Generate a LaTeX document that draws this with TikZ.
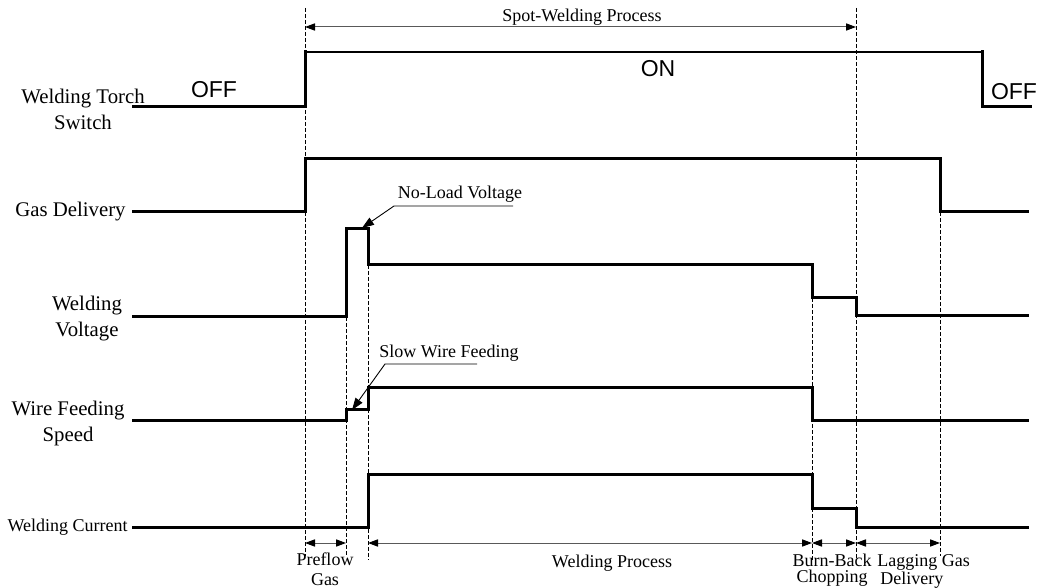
\documentclass[tikz,border=0pt]{standalone}
\usepackage{fontspec}
\setmainfont{Liberation Serif}
\newfontfamily\arialfont{Liberation Sans}
\usepackage{tikz}
\usetikzlibrary{positioning,arrows.meta,calc}

\begin{document}
\begin{tikzpicture}[x=0.5pt, y=-0.5pt,
  sig/.style={line width=1.5pt, line cap=rect},
  sighi/.style={line width=0.8pt},
  guide/.style={dash pattern=on 2pt off 1pt, line width=0.45pt},
  dim/.style={{Triangle[length=5pt,width=3.6pt,black]}-{Triangle[length=5pt,width=3.6pt,black]}, draw=black!65, line width=0.5pt},
  lead/.style={-{Triangle[length=6pt,width=4.2pt]}, line width=0.45pt},
  lab/.style={font=\fontsize{10.4}{13}\selectfont, align=center, inner sep=0pt},
  note/.style={font=\fontsize{9}{11}\selectfont, align=center, inner sep=0pt},
  st/.style={font=\arialfont\fontsize{11.5}{13}\selectfont, inner sep=0pt}]
\useasboundingbox (0,0) rectangle (1045,588);

% --- time instants (dashed guides) ---
\draw[guide] (305,8) -- (305,556);
\draw[guide] (346,317) -- (346,556);
\draw[guide] (368,265) -- (368,560);
\draw[guide] (812,298) -- (812,560);
\draw[guide] (856,8) -- (856,558);
\draw[guide] (940,212) -- (940,556);

% --- signal names on the left ---
\coordinate (torch0) at (133,107);
\coordinate (gas0) at (133,212);
\coordinate (volt0) at (133,317);
\coordinate (wire0) at (133,421);
\coordinate (cur0) at (133,527);
\node[lab] (lTorch) at (83,109) {Welding Torch\\Switch};
\node[lab, left=3.5pt of gas0] (lGas) {Gas Delivery};
\node[lab] (lVolt) at (87,319) {Welding\\Voltage};
\node[lab] (lWire) at (68,423) {Wire Feeding\\Speed};
\node[note, left=2.5pt of cur0] (lCur) {Welding Current};

% --- waveforms ---
\draw[sig] (torch0) -- (305,107) -- (305,52);
\draw[sighi] (305,52) -- (982,52);
\draw[sig] (982,52) -- (982,107) -- (1030,107);
\draw[sig] (gas0) -| (305,159) -| (940,212) -- (1027,212);
\draw[sig] (volt0) -| (346,229) -| (368,265) -| (812,298) -| (856,316) -- (1027,316);
\draw[sig] (wire0) -| (346,410) -| (368,388) -| (812,421) -- (1027,421);
\draw[sig] (cur0) -| (368,474) -| (812,508) -| (856,527) -- (1027,527);

% switch states
\node[st] (off1) at (214,90) {OFF};
\node[st] (on) at (658,69) {ON};
\node[st] (off2) at (1014,92) {OFF};

% --- spot-welding span on top ---
\coordinate (spA) at (305,27);
\coordinate (spB) at (856,27);
\draw[dim] (spA) -- (spB);
\node[note] (spot) at (582,17) {Spot-Welding Process};

% --- callouts ---
\node[note] (noload) at (460,194) {No-Load Voltage};
\coordinate (nlR) at (513,206);
\coordinate (nlL) at (394,206);
\coordinate (nlTip) at (362,228);
\draw[lead] (nlR) -- (nlL) -- (nlTip);
\node[note] (slow) at (449,353) {Slow Wire Feeding};
\coordinate (swR) at (477,364);
\coordinate (swL) at (385,364);
\coordinate (swTip) at (352,410);
\draw[lead] (swR) -- (swL) -- (swTip);

% --- phases along the bottom ---
\coordinate (p0) at (305,543);
\coordinate (p1) at (346,543);
\coordinate (p2) at (368,543);
\coordinate (p3) at (812,543);
\coordinate (p4) at (856,543);
\coordinate (p5) at (940,543);
\draw[dim] (p0) -- (p1);
\draw[dim] (p2) -- (p3);
\draw[dim] (p3) -- (p4);
\draw[dim] (p4) -- (p5);
\node[note, anchor=north, font=\fontsize{9}{10}\selectfont] (preflow) at (325,552) {Preflow\\Gas};
\node[note, anchor=north] (wproc) at (612,555) {Welding Process};
\node[note, anchor=north, font=\fontsize{9}{7.6}\selectfont] (burn) at (832,554) {Burn-Back\\Chopping};
\node[note, anchor=north west, align=left, font=\fontsize{9}{7.6}\selectfont] (lag) at (877,554) {Lagging Gas\\\,Delivery};
\end{tikzpicture}
\end{document}
